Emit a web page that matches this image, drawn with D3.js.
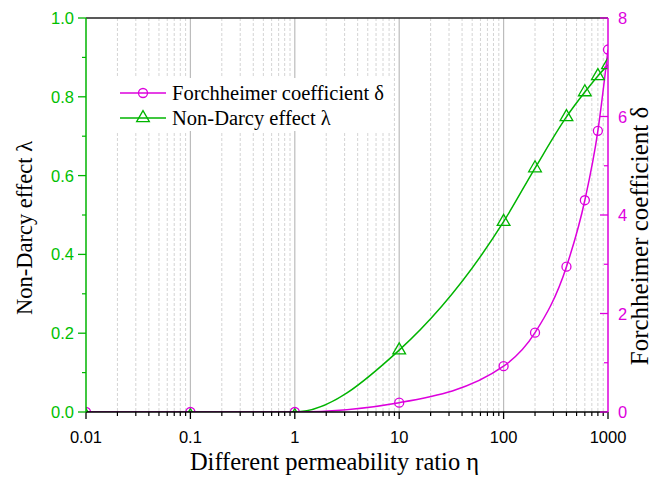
<!DOCTYPE html>
<html><head><meta charset="utf-8">
<script src="https://cdn.jsdelivr.net/npm/d3@7"></script>
<style>body{margin:0;background:#fff}svg{display:block}</style>
</head><body>
<svg id="c" width="654" height="477"></svg>
<script>
const etaDelta = [0.01, 0.1, 1, 10, 100, 200, 400, 600, 800, 1000];
const deltaVals = [0, 0, 0, 0.19, 0.93, 1.61, 2.95, 4.30, 5.71, 7.36];
const etaLambda = [0.01, 0.1, 1, 10, 100, 200, 400, 600, 800, 1000];
const lambdaVals = [0, 0, 0, 0.157, 0.483, 0.619, 0.749, 0.812, 0.853, 0.881];
const xTicks = [0.01, 0.1, 1, 10, 100, 1000];
const xTickLabels = ["0.01", "0.1", "1", "10", "100", "1000"];
const leftTicks = [0, 0.2, 0.4, 0.6, 0.8, 1.0];
const rightTicks = [0, 2, 4, 6, 8];

const GREEN = "#00b400", MAG = "#dd00dd";
const svg = d3.select("#c");
const L = 86, R = 608, T = 18, B = 412;
const x = d3.scaleLog().domain([0.01, 1000]).range([L, R]);
const yL = d3.scaleLinear().domain([0, 1]).range([B, T]);
const yR = d3.scaleLinear().domain([0, 8]).range([B, T]);

svg.append("defs").append("clipPath").attr("id", "pc").append("rect")
  .attr("x", L).attr("y", T).attr("width", R - L).attr("height", B - T);

// grid
const minor = [];
for (let e = -2; e < 3; e++) for (let k = 2; k <= 9; k++) minor.push(k * Math.pow(10, e));
svg.append("g").selectAll("line").data(minor).join("line")
  .attr("x1", d => x(d)).attr("x2", d => x(d)).attr("y1", T).attr("y2", B)
  .attr("stroke", "#d4d4d4").attr("stroke-dasharray", "3,2").attr("stroke-width", 1);
svg.append("g").selectAll("line").data(xTicks.slice(1, -1)).join("line")
  .attr("x1", d => x(d)).attr("x2", d => x(d)).attr("y1", T).attr("y2", B)
  .attr("stroke", "#bcbcbc").attr("stroke-width", 1.2);

// legend background
const lg = svg.append("g");
lg.append("rect").attr("x", 113).attr("y", 78).attr("width", 280).attr("height", 53).attr("fill", "#fff");

// curves
const plot = svg.append("g").attr("clip-path", "url(#pc)");
const lineD = d3.line().x(d => x(d[0])).y(d => yR(d[1])).curve(d3.curveMonotoneX);
const lineL = d3.line().x(d => x(d[0])).y(d => yL(d[1])).curve(d3.curveMonotoneX);
const dD = etaDelta.map((e, i) => [e, deltaVals[i]]);
const dL = etaLambda.map((e, i) => [e, lambdaVals[i]]);
plot.append("path").attr("d", lineL(dL)).attr("fill", "none").attr("stroke", GREEN).attr("stroke-width", 1.5);
plot.append("path").attr("d", lineD(dD)).attr("fill", "none").attr("stroke", MAG).attr("stroke-width", 1.5);

const tri = d3.symbol().type(d3.symbolTriangle).size(70);
plot.append("g").selectAll("path").data(dL).join("path")
  .attr("d", tri).attr("transform", d => `translate(${x(d[0])},${yL(d[1]) + (d[1] === 0 ? 4 : 0)})`)
  .attr("fill", "none").attr("stroke", GREEN).attr("stroke-width", 1.3);
plot.append("g").selectAll("circle").data(dD).join("circle")
  .attr("cx", d => x(d[0])).attr("cy", d => yR(d[1])).attr("r", 4.5)
  .attr("fill", "none").attr("stroke", MAG).attr("stroke-width", 1.3);

// axes
const sans = "Arial, 'Liberation Sans', sans-serif";
// bottom
const xa = svg.append("g").attr("transform", `translate(0,${B})`);
xa.append("line").attr("x1", L).attr("x2", R).attr("stroke", "#000").attr("stroke-width", 1.5);
xa.selectAll(".mn").data(minor).join("line").attr("x1", d => x(d)).attr("x2", d => x(d))
  .attr("y1", 0).attr("y2", 4).attr("stroke", "#000").attr("stroke-width", 1.2);
xa.selectAll(".mj").data(xTicks).join("line").attr("x1", d => x(d)).attr("x2", d => x(d))
  .attr("y1", 0).attr("y2", 7).attr("stroke", "#000").attr("stroke-width", 1.3);
xa.selectAll("text").data(xTicks).join("text").attr("x", d => x(d)).attr("y", 31)
  .attr("text-anchor", "middle").attr("font-family", sans)
  .attr("font-size", 16.5).text((d, i) => xTickLabels[i]);
// top
svg.append("line").attr("x1", L).attr("x2", R).attr("y1", T).attr("y2", T).attr("stroke", "#222").attr("stroke-width", 1.5);

// left
const la = svg.append("g");
la.append("line").attr("x1", L).attr("x2", L).attr("y1", T).attr("y2", B).attr("stroke", GREEN).attr("stroke-width", 1.5);
la.selectAll(".mn").data(d3.range(0.1, 1, 0.2)).join("line").attr("x1", L - 4).attr("x2", L)
  .attr("y1", d => yL(d)).attr("y2", d => yL(d)).attr("stroke", GREEN).attr("stroke-width", 1.2);
la.selectAll(".mj").data(leftTicks).join("line").attr("x1", L - 8).attr("x2", L)
  .attr("y1", d => yL(d)).attr("y2", d => yL(d)).attr("stroke", GREEN).attr("stroke-width", 1.3);
la.selectAll("text").data(leftTicks).join("text").attr("x", L - 12).attr("y", d => yL(d) + 6)
  .attr("text-anchor", "end").attr("font-family", sans)
  .attr("font-size", 16.5).attr("fill", "#00c000").text(d => d.toFixed(1));

// right
const ra = svg.append("g");
ra.append("line").attr("x1", R).attr("x2", R).attr("y1", T).attr("y2", B).attr("stroke", MAG).attr("stroke-width", 1.5);
ra.selectAll(".mn").data([1, 3, 5, 7]).join("line").attr("x1", R).attr("x2", R - 4)
  .attr("y1", d => yR(d)).attr("y2", d => yR(d)).attr("stroke", MAG).attr("stroke-width", 1.2);
ra.selectAll(".mj").data(rightTicks).join("line").attr("x1", R).attr("x2", R - 8)
  .attr("y1", d => yR(d)).attr("y2", d => yR(d)).attr("stroke", MAG).attr("stroke-width", 1.3);
ra.selectAll("text").data(rightTicks).join("text").attr("x", R + 10).attr("y", d => yR(d) + 6)
  .attr("font-family", sans)
  .attr("font-size", 16.5).attr("fill", MAG).text(d => d);

// titles
const serif = "'Liberation Serif', 'Times New Roman', serif";
svg.append("text").attr("x", 334.5).attr("y", 470).attr("text-anchor", "middle")
  .attr("font-family", serif).attr("font-size", 24.5).text("Different permeability ratio η");
svg.append("text").attr("transform", "translate(32,228) rotate(-90)").attr("text-anchor", "middle")
  .attr("font-family", serif).attr("font-size", 22.5).text("Non-Darcy effect λ");
svg.append("text").attr("transform", "translate(648,236) rotate(-90)").attr("text-anchor", "middle")
  .attr("font-family", serif).attr("font-size", 25).text("Forchheimer coefficient δ");

// legend
const items = [{c: MAG, t: "Forchheimer coefficient δ", s: "c"}, {c: GREEN, t: "Non-Darcy effect λ", s: "t"}];
items.forEach((it, i) => {
  const y = 93 + i * 25;
  lg.append("line").attr("x1", 120).attr("x2", 166).attr("y1", y).attr("y2", y).attr("stroke", it.c).attr("stroke-width", 1.5);
  if (it.s === "c") lg.append("circle").attr("cx", 143).attr("cy", y).attr("r", 4.5).attr("fill", "none").attr("stroke", it.c).attr("stroke-width", 1.3);
  else lg.append("path").attr("d", tri).attr("transform", `translate(143,${y})`).attr("fill", "none").attr("stroke", it.c).attr("stroke-width", 1.3);
  lg.append("text").attr("x", 172).attr("y", y + 6.5).attr("font-family", serif).attr("font-size", 20.5).text(it.t);
});
</script>
</body></html>
